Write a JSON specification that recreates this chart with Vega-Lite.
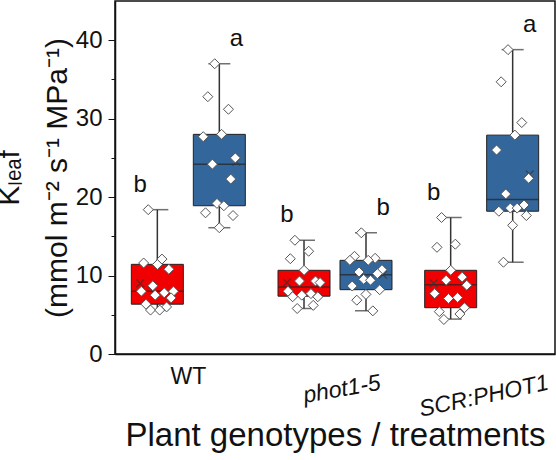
{
  "$schema": "https://vega.github.io/schema/vega-lite/v6.json",
  "autosize": {"type": "none"},
  "padding": {"left": 115, "top": 1, "right": 1, "bottom": 106},
  "width": 440,
  "height": 353,
  "config": {
    "font": "Liberation Sans",
    "view": {"stroke": "#111", "strokeWidth": 1.5},
    "axis": {"domainColor": "#111", "domainWidth": 1.5, "tickColor": "#111", "labelColor": "#111", "titleColor": "#111", "grid": false, "labelFont": "Liberation Sans", "titleFont": "Liberation Sans", "titleFontWeight": "normal"}
  },
  "datasets": {
    "stats": [
      {"genotype": "WT", "treatment": "Red light", "min": 5.6, "q1": 6.35, "median": 8.0, "q3": 11.43, "max": 18.4, "mean": 9.0, "letter": "b"},
      {"genotype": "WT", "treatment": "Blue light", "min": 16.1, "q1": 18.9, "median": 24.2, "q3": 28.0, "max": 37.0, "mean": 24.5, "letter": "a"},
      {"genotype": "phot1-5", "treatment": "Red light", "min": 5.8, "q1": 7.37, "median": 8.55, "q3": 10.67, "max": 14.5, "mean": 9.1, "letter": "b"},
      {"genotype": "phot1-5", "treatment": "Blue light", "min": 5.5, "q1": 8.2, "median": 10.1, "q3": 11.94, "max": 15.45, "mean": 10.1, "letter": "b"},
      {"genotype": "SCR:PHOT1", "treatment": "Red light", "min": 4.45, "q1": 5.9, "median": 8.84, "q3": 10.67, "max": 17.4, "mean": 9.0, "letter": "b"},
      {"genotype": "SCR:PHOT1", "treatment": "Blue light", "min": 11.7, "q1": 18.2, "median": 19.7, "q3": 27.9, "max": 38.8, "mean": 22.9, "letter": "a"}
    ],
    "samples": [
      {"genotype": "WT", "treatment": "Red light", "rep": 1, "kleaf": 18.4},
      {"genotype": "WT", "treatment": "Red light", "rep": 2, "kleaf": 12.1},
      {"genotype": "WT", "treatment": "Red light", "rep": 3, "kleaf": 11.6},
      {"genotype": "WT", "treatment": "Red light", "rep": 4, "kleaf": 11.4},
      {"genotype": "WT", "treatment": "Red light", "rep": 5, "kleaf": 10.8},
      {"genotype": "WT", "treatment": "Red light", "rep": 6, "kleaf": 8.7},
      {"genotype": "WT", "treatment": "Red light", "rep": 7, "kleaf": 8.0},
      {"genotype": "WT", "treatment": "Red light", "rep": 8, "kleaf": 8.0},
      {"genotype": "WT", "treatment": "Red light", "rep": 9, "kleaf": 7.8},
      {"genotype": "WT", "treatment": "Red light", "rep": 10, "kleaf": 7.5},
      {"genotype": "WT", "treatment": "Red light", "rep": 11, "kleaf": 7.15},
      {"genotype": "WT", "treatment": "Red light", "rep": 12, "kleaf": 6.35},
      {"genotype": "WT", "treatment": "Red light", "rep": 13, "kleaf": 6.0},
      {"genotype": "WT", "treatment": "Red light", "rep": 14, "kleaf": 5.6},
      {"genotype": "WT", "treatment": "Red light", "rep": 15, "kleaf": 5.6},
      {"genotype": "WT", "treatment": "Blue light", "rep": 1, "kleaf": 37.0},
      {"genotype": "WT", "treatment": "Blue light", "rep": 2, "kleaf": 32.8},
      {"genotype": "WT", "treatment": "Blue light", "rep": 3, "kleaf": 31.2},
      {"genotype": "WT", "treatment": "Blue light", "rep": 4, "kleaf": 28.0},
      {"genotype": "WT", "treatment": "Blue light", "rep": 5, "kleaf": 27.7},
      {"genotype": "WT", "treatment": "Blue light", "rep": 6, "kleaf": 25.0},
      {"genotype": "WT", "treatment": "Blue light", "rep": 7, "kleaf": 24.2},
      {"genotype": "WT", "treatment": "Blue light", "rep": 8, "kleaf": 22.3},
      {"genotype": "WT", "treatment": "Blue light", "rep": 9, "kleaf": 19.2},
      {"genotype": "WT", "treatment": "Blue light", "rep": 10, "kleaf": 18.9},
      {"genotype": "WT", "treatment": "Blue light", "rep": 11, "kleaf": 18.0},
      {"genotype": "WT", "treatment": "Blue light", "rep": 12, "kleaf": 17.65},
      {"genotype": "WT", "treatment": "Blue light", "rep": 13, "kleaf": 16.1},
      {"genotype": "phot1-5", "treatment": "Red light", "rep": 1, "kleaf": 14.5},
      {"genotype": "phot1-5", "treatment": "Red light", "rep": 2, "kleaf": 13.1},
      {"genotype": "phot1-5", "treatment": "Red light", "rep": 3, "kleaf": 12.15},
      {"genotype": "phot1-5", "treatment": "Red light", "rep": 4, "kleaf": 10.67},
      {"genotype": "phot1-5", "treatment": "Red light", "rep": 5, "kleaf": 9.3},
      {"genotype": "phot1-5", "treatment": "Red light", "rep": 6, "kleaf": 9.3},
      {"genotype": "phot1-5", "treatment": "Red light", "rep": 7, "kleaf": 9.1},
      {"genotype": "phot1-5", "treatment": "Red light", "rep": 8, "kleaf": 8.0},
      {"genotype": "phot1-5", "treatment": "Red light", "rep": 9, "kleaf": 7.7},
      {"genotype": "phot1-5", "treatment": "Red light", "rep": 10, "kleaf": 7.5},
      {"genotype": "phot1-5", "treatment": "Red light", "rep": 11, "kleaf": 7.3},
      {"genotype": "phot1-5", "treatment": "Red light", "rep": 12, "kleaf": 7.3},
      {"genotype": "phot1-5", "treatment": "Red light", "rep": 13, "kleaf": 6.2},
      {"genotype": "phot1-5", "treatment": "Red light", "rep": 14, "kleaf": 5.8},
      {"genotype": "phot1-5", "treatment": "Blue light", "rep": 1, "kleaf": 15.45},
      {"genotype": "phot1-5", "treatment": "Blue light", "rep": 2, "kleaf": 12.45},
      {"genotype": "phot1-5", "treatment": "Blue light", "rep": 3, "kleaf": 12.2},
      {"genotype": "phot1-5", "treatment": "Blue light", "rep": 4, "kleaf": 11.94},
      {"genotype": "phot1-5", "treatment": "Blue light", "rep": 5, "kleaf": 11.94},
      {"genotype": "phot1-5", "treatment": "Blue light", "rep": 6, "kleaf": 10.75},
      {"genotype": "phot1-5", "treatment": "Blue light", "rep": 7, "kleaf": 10.45},
      {"genotype": "phot1-5", "treatment": "Blue light", "rep": 8, "kleaf": 10.24},
      {"genotype": "phot1-5", "treatment": "Blue light", "rep": 9, "kleaf": 9.52},
      {"genotype": "phot1-5", "treatment": "Blue light", "rep": 10, "kleaf": 9.4},
      {"genotype": "phot1-5", "treatment": "Blue light", "rep": 11, "kleaf": 8.67},
      {"genotype": "phot1-5", "treatment": "Blue light", "rep": 12, "kleaf": 8.2},
      {"genotype": "phot1-5", "treatment": "Blue light", "rep": 13, "kleaf": 7.6},
      {"genotype": "phot1-5", "treatment": "Blue light", "rep": 14, "kleaf": 6.86},
      {"genotype": "phot1-5", "treatment": "Blue light", "rep": 15, "kleaf": 5.5},
      {"genotype": "SCR:PHOT1", "treatment": "Red light", "rep": 1, "kleaf": 17.4},
      {"genotype": "SCR:PHOT1", "treatment": "Red light", "rep": 2, "kleaf": 14.0},
      {"genotype": "SCR:PHOT1", "treatment": "Red light", "rep": 3, "kleaf": 13.6},
      {"genotype": "SCR:PHOT1", "treatment": "Red light", "rep": 4, "kleaf": 10.67},
      {"genotype": "SCR:PHOT1", "treatment": "Red light", "rep": 5, "kleaf": 9.8},
      {"genotype": "SCR:PHOT1", "treatment": "Red light", "rep": 6, "kleaf": 9.4},
      {"genotype": "SCR:PHOT1", "treatment": "Red light", "rep": 7, "kleaf": 8.76},
      {"genotype": "SCR:PHOT1", "treatment": "Red light", "rep": 8, "kleaf": 7.7},
      {"genotype": "SCR:PHOT1", "treatment": "Red light", "rep": 9, "kleaf": 7.2},
      {"genotype": "SCR:PHOT1", "treatment": "Red light", "rep": 10, "kleaf": 7.07},
      {"genotype": "SCR:PHOT1", "treatment": "Red light", "rep": 11, "kleaf": 5.9},
      {"genotype": "SCR:PHOT1", "treatment": "Red light", "rep": 12, "kleaf": 5.4},
      {"genotype": "SCR:PHOT1", "treatment": "Red light", "rep": 13, "kleaf": 5.1},
      {"genotype": "SCR:PHOT1", "treatment": "Red light", "rep": 14, "kleaf": 4.4},
      {"genotype": "SCR:PHOT1", "treatment": "Blue light", "rep": 1, "kleaf": 38.8},
      {"genotype": "SCR:PHOT1", "treatment": "Blue light", "rep": 2, "kleaf": 34.7},
      {"genotype": "SCR:PHOT1", "treatment": "Blue light", "rep": 3, "kleaf": 29.5},
      {"genotype": "SCR:PHOT1", "treatment": "Blue light", "rep": 4, "kleaf": 27.9},
      {"genotype": "SCR:PHOT1", "treatment": "Blue light", "rep": 5, "kleaf": 26.0},
      {"genotype": "SCR:PHOT1", "treatment": "Blue light", "rep": 6, "kleaf": 22.4},
      {"genotype": "SCR:PHOT1", "treatment": "Blue light", "rep": 7, "kleaf": 20.4},
      {"genotype": "SCR:PHOT1", "treatment": "Blue light", "rep": 8, "kleaf": 19.0},
      {"genotype": "SCR:PHOT1", "treatment": "Blue light", "rep": 9, "kleaf": 18.6},
      {"genotype": "SCR:PHOT1", "treatment": "Blue light", "rep": 10, "kleaf": 18.6},
      {"genotype": "SCR:PHOT1", "treatment": "Blue light", "rep": 11, "kleaf": 18.2},
      {"genotype": "SCR:PHOT1", "treatment": "Blue light", "rep": 12, "kleaf": 17.65},
      {"genotype": "SCR:PHOT1", "treatment": "Blue light", "rep": 13, "kleaf": 16.4},
      {"genotype": "SCR:PHOT1", "treatment": "Blue light", "rep": 14, "kleaf": 11.7}
    ]
  },
  "encoding": {
    "x": {
      "field": "genotype", "type": "nominal", "sort": ["WT", "phot1-5", "SCR:PHOT1"],
      "scale": {"paddingInner": 0, "paddingOuter": 0},
      "axis": {
        "title": "Plant genotypes / treatments", "titleFontSize": 33, "titlePadding": -2,
        "ticks": false, "labelFontSize": 23,
        "labelAngle": {"expr": "datum.value == 'WT' ? 0 : (datum.value == 'phot1-5' ? -10 : -12)"},
        "labelAlign": "center", "labelBaseline": "top",
        "labelPadding": {"condition": [{"test": "datum.value == 'WT'", "value": 11}, {"test": "datum.value == 'phot1-5'", "value": 24}], "value": 31},
        "labelOffset": {"condition": {"test": "datum.value == 'phot1-5'", "value": 5}, "value": 0},
        "labelFontStyle": {"condition": {"test": "datum.value == 'WT'", "value": "normal"}, "value": "italic"}
      }
    }
  },
  "layer": [
    {
      "data": {"name": "stats"},
      "mark": {"type": "rule", "color": "#333", "strokeWidth": 1.5},
      "encoding": {
        "xOffset": {"field": "treatment", "type": "nominal", "scale": {"domain": ["Red light", "Blue light"], "paddingInner": 0.16, "paddingOuter": 0.263}},
        "y": {"field": "min", "type": "quantitative", "scale": {"domain": [0, 45], "nice": false},
          "axis": {
            "values": [0, 5, 10, 15, 20, 25, 30, 35, 40],
            "labelExpr": "datum.value % 10 == 0 ? datum.label : ''",
            "tickSize": {"condition": {"test": "datum.value % 10 == 0", "value": 7}, "value": 4},
            "labelFontSize": 24, "labelPadding": 6,
            "title": ["Kₗₑₐf", "(mmol m⁻² s⁻¹ MPa⁻¹)"],
            "titleFontSize": 30, "titleLineHeight": 48, "titlePadding": 3
          }},
        "y2": {"field": "max"}
      }
    },
    {
      "data": {"name": "stats"},
      "mark": {"type": "bar", "size": 52, "stroke": "#222", "strokeWidth": 1},
      "encoding": {
        "xOffset": {"field": "treatment", "type": "nominal", "scale": {"domain": ["Red light", "Blue light"], "paddingInner": 0.16, "paddingOuter": 0.263}},
        "y": {"field": "q1", "type": "quantitative"},
        "y2": {"field": "q3"},
        "color": {"field": "treatment", "type": "nominal", "scale": {"domain": ["Red light", "Blue light"], "range": ["#f00000", "#33669a"]}, "legend": null}
      }
    },
    {
      "data": {"name": "stats"},
      "mark": {"type": "tick", "size": 52, "thickness": 1.5, "color": "#222"},
      "encoding": {
        "xOffset": {"field": "treatment", "type": "nominal", "scale": {"domain": ["Red light", "Blue light"], "paddingInner": 0.16, "paddingOuter": 0.263}},
        "y": {"field": "median", "type": "quantitative"}
      }
    },
    {
      "data": {"name": "stats"},
      "mark": {"type": "tick", "size": 22, "thickness": 1.5, "color": "#333"},
      "encoding": {
        "xOffset": {"field": "treatment", "type": "nominal", "scale": {"domain": ["Red light", "Blue light"], "paddingInner": 0.16, "paddingOuter": 0.263}},
        "y": {"field": "max", "type": "quantitative"}
      }
    },
    {
      "data": {"name": "stats"},
      "mark": {"type": "tick", "size": 22, "thickness": 1.5, "color": "#333"},
      "encoding": {
        "xOffset": {"field": "treatment", "type": "nominal", "scale": {"domain": ["Red light", "Blue light"], "paddingInner": 0.16, "paddingOuter": 0.263}},
        "y": {"field": "min", "type": "quantitative"}
      }
    },
    {
      "data": {"name": "stats"},
      "mark": {"type": "point", "shape": "M-1,-1L1,1M-1,1L1,-1", "filled": false, "size": 60, "stroke": "#333", "strokeWidth": 1.2, "opacity": 0.7},
      "encoding": {
        "xOffset": {"field": "treatment", "type": "nominal", "scale": {"domain": ["Red light", "Blue light"], "paddingInner": 0.16, "paddingOuter": 0.263}},
        "y": {"field": "mean", "type": "quantitative"}
      }
    },
    {
      "data": {"name": "stats"},
      "mark": {"type": "text", "fontSize": 24, "baseline": "alphabetic", "dy": -18, "color": "#111"},
      "encoding": {
        "xOffset": {"field": "treatment", "type": "nominal", "scale": {"domain": ["Red light", "Blue light"], "paddingInner": 0.16, "paddingOuter": 0.263}},
        "y": {"field": "max", "type": "quantitative"},
        "text": {"field": "letter"}
      }
    },
    {
      "data": {"name": "samples"},
      "transform": [{"calculate": "(datum.treatment == 'Red light' ? 'R' : 'B') + datum.rep", "as": "slot"}],
      "mark": {"type": "point", "shape": "diamond", "filled": true, "fill": "white", "stroke": "#555", "strokeWidth": 1, "size": 100, "opacity": 1},
      "encoding": {
        "xOffset": {"field": "slot", "type": "nominal", "scale": {"type": "point", "padding": 0.5,
          "domain": ["p1","p2","p3","p4","p5","p6","p7","p8","p9","p10","p11",
                     "R8","R3","R12","R1","R14","R6","R10","R4","R15","R2","R9","R13","R5","R11","R7",
                     "g1","g2","g3","g4","g5","g6","g7","g8","g9","g10","g11","g12",
                     "B5","B11","B2","B14","B7","B1","B9","B13","B4","B10","B15","B3","B8","B12","B6",
                     "q1","q2","q3","q4","q5","q6","q7","q8","q9","q10","q11"]}},
        "y": {"field": "kleaf", "type": "quantitative"}
      }
    }
  ],
  "resolve": {"scale": {"xOffset": "independent"}}
}
